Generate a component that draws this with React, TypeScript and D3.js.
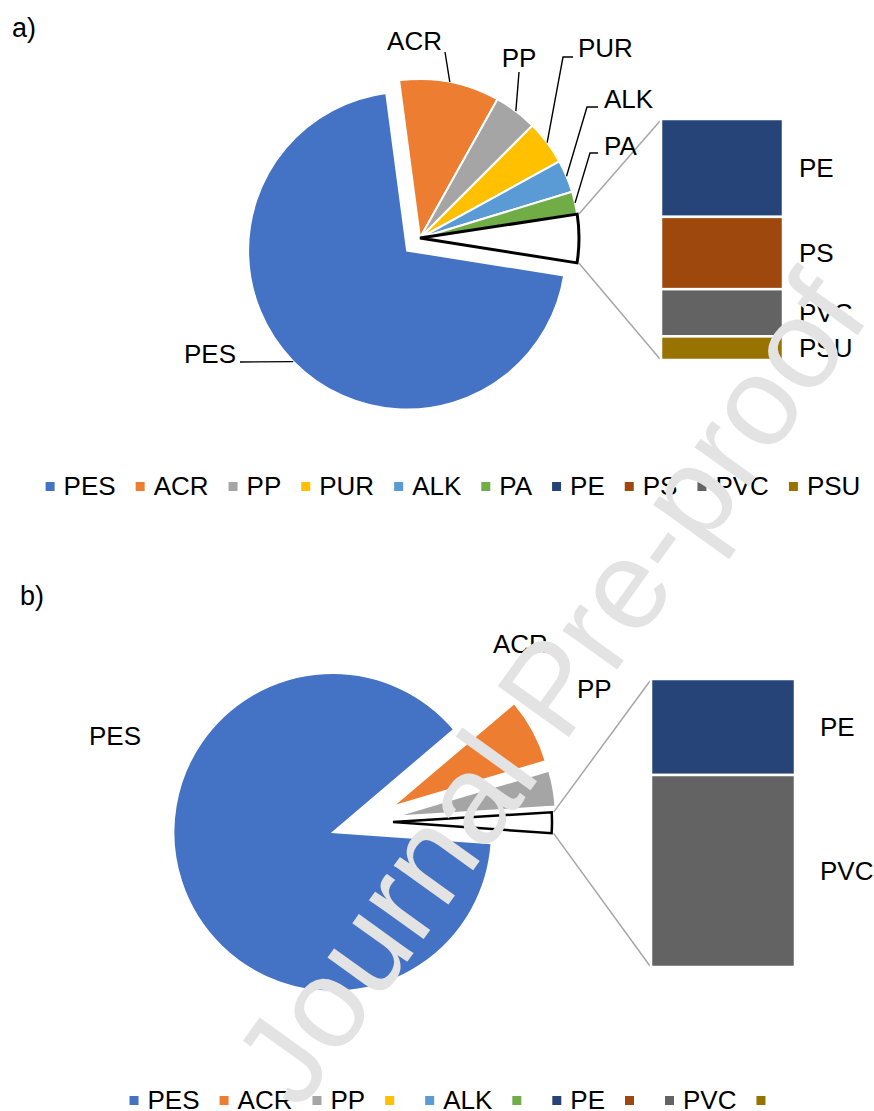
import React, { useEffect, useRef } from "react";
import * as d3 from "d3";

// ---------- data ----------
const colorNames = ["PES", "ACR", "PP", "PUR", "ALK", "PA", "PE", "PS", "PVC", "PSU"];
const colorValues = ["#4472C4", "#ED7D31", "#A5A5A5", "#FFC000", "#5B9BD5", "#70AD47", "#264478", "#9E480E", "#636363", "#997300"];

// panel a
const pieCatsA = ["PES", "ACR", "PP", "PUR", "ALK", "PA", "Other"];
const pieValsA = [70.4, 10.2, 4.4, 4.5, 3.3, 2.3, 4.9];
const barCatsA = ["PE", "PS", "PVC", "PSU"];
const barValsA = [1.99, 1.47, 0.96, 0.48];
const legendA = ["PES", "ACR", "PP", "PUR", "ALK", "PA", "PE", "PS", "PVC", "PSU"];

// panel b
const pieCatsB = ["PES", "ACR", "PP", "Other"];
const pieValsB = [87.6, 6.6, 3.6, 2.1];
const barCatsB = ["PE", "PVC"];
const barValsB = [0.7, 1.4];
const legendB = ["PES", "ACR", "PP", "", "ALK", "", "PE", "", "PVC", ""];

const colorOf = (name: string) => colorValues[colorNames.indexOf(name)];
const FONT = "'Liberation Sans', Arial, Helvetica, sans-serif";

// ---------- layout ----------
const layoutA = {
  title: "a)", titleX: 12, titleY: 37,
  cx: 420, cy: 238, r: 159, startDeg: 99,
  explode: [18, 0, 0, 0, 0, 0, 0],
  sliceStroke: 2, otherStroke: 3,
  bar: { x: 661, w: 122, top: 119, bottom: 360 }, barLabelX: 799,
  labels: {
    ACR: { x: 442, y: 50, anchor: "end", path: [[445, 52]] },
    PP: { x: 519, y: 67, anchor: "middle", path: [[519, 72]] },
    PUR: { x: 578, y: 57, anchor: "start", path: [[563, 57], [573, 57]] },
    ALK: { x: 604, y: 108, anchor: "start", path: [[587, 107], [598, 107]] },
    PA: { x: 604, y: 155, anchor: "start", path: [[590, 153], [598, 153]] },
    PES: { x: 236, y: 363, anchor: "end", path: [[240, 362]] },
  } as Record<string, any>,
  legendY: 495,
};

const layoutB = {
  title: "b)", titleX: 20, titleY: 605,
  cx: 364, cy: 822, r: 159, startDeg: 94,
  explode: [33, 33, 33, 29],
  sliceStroke: 1.5, otherStroke: 2.5,
  bar: { x: 651, w: 144, top: 679, bottom: 967 }, barLabelX: 820,
  labels: {
    ACR: { x: 493, y: 653, anchor: "start", path: [] },
    PP: { x: 577, y: 698, anchor: "start", path: [] },
    PES: { x: 89, y: 745, anchor: "start", path: [] },
  } as Record<string, any>,
  legendY: 1109,
};

function drawPanel(svg: any, L: any, cats: string[], vals: number[], barCats: string[], barVals: number[], legend: string[]) {
  const g = svg.append("g");
  g.append("text").attr("x", L.titleX).attr("y", L.titleY).attr("font-size", 27).attr("fill", "#000").text(L.title);

  const start = (L.startDeg * Math.PI) / 180;
  const pie = d3.pie<number>().sort(null).value((d) => d).startAngle(start).endAngle(start + 2 * Math.PI);
  const arcs = pie(vals);
  const arc = d3.arc<d3.PieArcDatum<number>>().innerRadius(0).outerRadius(L.r);
  const last = arcs.length - 1;
  const offsetOf = (d: any, i: number) => {
    const m = (d.startAngle + d.endAngle) / 2;
    const e = L.explode[i];
    return [L.cx + e * Math.sin(m), L.cy - e * Math.cos(m)];
  };
  const pt = (o: number[], a: number, rr: number) => [o[0] + rr * Math.sin(a), o[1] - rr * Math.cos(a)];

  arcs.forEach((d, i) => {
    const o = offsetOf(d, i);
    const isOther = i === last;
    g.append("path")
      .attr("d", arc(d))
      .attr("transform", `translate(${o[0]},${o[1]})`)
      .attr("fill", isOther ? "#fff" : colorOf(cats[i]))
      .attr("stroke", isOther ? "#000" : "#fff")
      .attr("stroke-width", isOther ? L.otherStroke : L.sliceStroke)
      .attr("stroke-linejoin", "miter");
  });

  // connector lines
  const od = arcs[last];
  const oo = offsetOf(od, last);
  const p1 = pt(oo, od.startAngle, L.r + 2);
  const p2 = pt(oo, od.endAngle, L.r + 2);
  const bx = L.bar.x;
  g.append("line").attr("x1", p1[0]).attr("y1", p1[1]).attr("x2", bx - 1).attr("y2", L.bar.top + 2)
    .attr("stroke", "#A6A6A6").attr("stroke-width", 1.5);
  g.append("line").attr("x1", p2[0]).attr("y1", p2[1]).attr("x2", bx - 1).attr("y2", L.bar.bottom - 1)
    .attr("stroke", "#A6A6A6").attr("stroke-width", 1.5);

  // bar
  const y = d3.scaleLinear().domain([0, d3.sum(barVals)]).range([L.bar.top, L.bar.bottom]);
  let acc = 0;
  barVals.forEach((v, i) => {
    g.append("rect")
      .attr("x", L.bar.x).attr("y", y(acc)).attr("width", L.bar.w).attr("height", y(acc + v) - y(acc))
      .attr("fill", colorOf(barCats[i])).attr("stroke", "#fff").attr("stroke-width", 2.5);
    g.append("text").attr("x", L.barLabelX).attr("y", y(acc + v / 2) + 9.3)
      .attr("font-size", 26).attr("fill", "#000").text(barCats[i]);
    acc += v;
  });

  // pie labels
  arcs.forEach((d, i) => {
    const lab = L.labels[cats[i]];
    if (!lab) return;
    const o = offsetOf(d, i);
    const m = (d.startAngle + d.endAngle) / 2;
    if (lab.path.length) {
      const pts = [pt(o, m, L.r), ...lab.path];
      g.append("path").attr("d", d3.line()(pts as any)).attr("fill", "none")
        .attr("stroke", "#000").attr("stroke-width", 1.4);
    }
    g.append("text").attr("x", lab.x).attr("y", lab.y).attr("text-anchor", lab.anchor)
      .attr("font-size", 26).attr("fill", "#000").text(cats[i]);
  });

  // legend
  const lg = g.append("g");
  const items = legend.map((name, i) => {
    const rect = lg.append("rect").attr("width", 9).attr("height", 9).attr("y", L.legendY - 13).attr("fill", colorValues[i]);
    const t = lg.append("text").attr("y", L.legendY).attr("font-size", 26).attr("fill", "#000").text(name);
    const w = name ? (t.node() as SVGTextElement).getComputedTextLength() : 2;
    return { rect, t, w };
  });
  const gapIn = 9, gapOut = 20;
  const total = d3.sum(items, (it) => 9 + gapIn + it.w + gapOut) - gapOut;
  let x = 453 - total / 2;
  items.forEach((it) => {
    it.rect.attr("x", x);
    it.t.attr("x", x + 9 + gapIn);
    x += 9 + gapIn + it.w + gapOut;
  });
}

export default function App() {
  const ref = useRef<SVGSVGElement>(null);
  useEffect(() => {
    const svg = d3.select(ref.current);
    svg.selectAll("*").remove();
    svg.append("rect").attr("width", 874).attr("height", 1111).attr("fill", "#fff");
    drawPanel(svg, layoutA, pieCatsA, pieValsA, barCatsA, barValsA, legendA);
    drawPanel(svg, layoutB, pieCatsB, pieValsB, barCatsB, barValsB, legendB);
    svg.append("text")
      .attr("transform", "translate(299,1112.5) rotate(-54.3)")
      .attr("font-size", 127).attr("fill", "#e3e3e3")
      .text("Journal Pre-proof");
  }, []);
  return (
    <svg
      ref={ref}
      width={874}
      height={1111}
      style={{ position: "absolute", left: 0, top: 0, fontFamily: FONT }}
    />
  );
}
